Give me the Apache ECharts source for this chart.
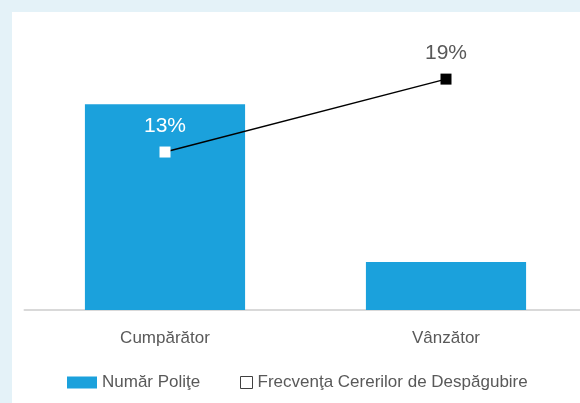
<!DOCTYPE html>
<html>
<head>
<meta charset="utf-8">
<script src="https://cdn.jsdelivr.net/npm/echarts@6/dist/echarts.min.js"></script>
<style>
  html, body { margin: 0; padding: 0; background: #e4f2f8; overflow: hidden; }
  #chart { position: absolute; left: 12px; top: 12px; width: 580px; height: 391px; background: #fff; }
</style>
</head>
<body>
<div id="chart"></div>
<script>
const categories = ['Cumpărător', 'Vânzător'];
const policyCounts = [1030, 240];
const claimFrequency = [13, 19];
const seriesNames = ['Număr Poliţe', 'Frecvenţa Cererilor de Despăgubire'];

const chart = echarts.init(document.getElementById('chart'));

const labelFont = 'Liberation Sans, Arial, sans-serif';

chart.setOption({
  textStyle: { fontFamily: labelFont },
  animation: false,
  grid: { left: 12.5, right: 5.5, top: 18.5, bottom: 93 },
  legend: [
    {
      data: [{ name: seriesNames[0], icon: 'rect' }],
      left: 55,
      top: 362,
      padding: 0,
      itemWidth: 30,
      itemHeight: 12,
      itemGap: 0,
      textStyle: { color: '#595959', fontSize: 17, fontFamily: labelFont },
    },
    {
      data: [{ name: seriesNames[1], icon: 'rect' }],
      left: 228,
      top: 362,
      padding: 0,
      itemWidth: 12,
      itemHeight: 12,
      textStyle: { color: '#595959', fontSize: 17, fontFamily: labelFont },
      itemStyle: { color: '#fff', borderColor: '#404040', borderWidth: 1 },
    },
  ],
  xAxis: {
    type: 'category',
    data: categories,
    axisLine: { lineStyle: { color: '#d9d9d9', width: 2 } },
    axisTick: { show: false },
    axisLabel: { color: '#595959', fontSize: 17, margin: 20, fontFamily: labelFont },
  },
  yAxis: [
    { type: 'value', min: 0, max: 1400, show: false },
    { type: 'value', min: 0, max: 23, show: false },
  ],
  series: [
    {
      name: seriesNames[0],
      type: 'bar',
      data: policyCounts,
      barWidth: '57%',
      itemStyle: { color: '#1ba1dc' },
    },
    {
      name: seriesNames[1],
      type: 'line',
      yAxisIndex: 1,
      data: [
        { value: claimFrequency[0], itemStyle: { color: '#fff', borderColor: '#fff' },
          label: { color: '#fff' } },
        { value: claimFrequency[1], itemStyle: { color: '#000', borderColor: '#000' },
          label: { color: '#595959' } },
      ],
      symbol: 'rect',
      symbolSize: 11,
      lineStyle: { color: '#000', width: 1.5 },
      itemStyle: { color: '#000', borderWidth: 0 },
      label: {
        show: true,
        position: 'top',
        distance: 10,
        fontSize: 21,
        fontFamily: labelFont,
        formatter: (p) => p.value + '%',
      },
    },
  ],
});
</script>
</body>
</html>
